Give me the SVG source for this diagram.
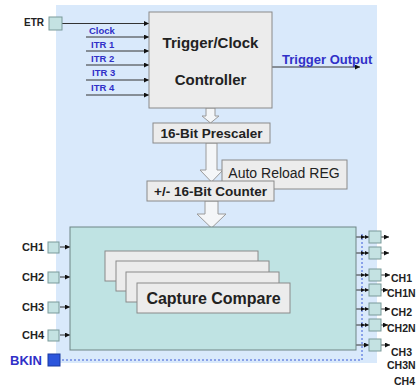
<svg xmlns="http://www.w3.org/2000/svg" width="417" height="390" viewBox="0 0 417 390">
<defs>
<marker id="ah" viewBox="0 0 10 10" refX="10" refY="5" markerWidth="5" markerHeight="5" orient="auto" markerUnits="userSpaceOnUse"><path d="M0,0 L10,5 L0,10 z" fill="#111"/></marker>
<marker id="ah2" viewBox="0 0 20 10" refX="20" refY="5" markerWidth="8" markerHeight="4" orient="auto" markerUnits="userSpaceOnUse"><path d="M0,0 L10,5 L0,10 z M10,0 L20,5 L10,10 z" fill="#111"/></marker>
<style>
.bg{fill:#d9e9fb;}
.box{fill:#ececec;stroke:#8a8a8a;stroke-width:1;}
.teal{fill:#bfe3e3;stroke:#6f8585;stroke-width:1;}
.pin{fill:#c4e2e2;stroke:#7a9a9a;stroke-width:1;}
.ln{stroke:#333;stroke-width:1;fill:none;}
.hol{fill:#f4f6f8;stroke:#9a9a9a;stroke-width:1;}
.dot{stroke:#3a5ad8;stroke-width:1;stroke-dasharray:2 2;fill:none;}
.tb{font-family:"Liberation Sans",Arial,sans-serif;font-weight:bold;fill:#222;}
.tn{font-family:"Liberation Sans",Arial,sans-serif;fill:#222;}
.blue{font-family:"Liberation Sans",Arial,sans-serif;font-weight:bold;fill:#3030c8;}
.out{font-family:"Liberation Sans",Arial,sans-serif;font-weight:bold;fill:#222;font-size:10.5px;}
</style>
</defs>
<rect class="bg" x="56" y="5" width="321" height="358"/>

<g id="connectors">
<line class="ln" x1="62" y1="23.5" x2="149" y2="23.5" marker-end="url(#ah)"/>
<line class="ln" x1="86" y1="37" x2="149" y2="37" marker-end="url(#ah)"/>
<line class="ln" x1="86" y1="51" x2="149" y2="51" marker-end="url(#ah)"/>
<line class="ln" x1="86" y1="65" x2="149" y2="65" marker-end="url(#ah)"/>
<line class="ln" x1="86" y1="80" x2="149" y2="80" marker-end="url(#ah)"/>
<line class="ln" x1="86" y1="95" x2="149" y2="95" marker-end="url(#ah)"/>
<line class="ln" x1="272" y1="67" x2="360" y2="67" marker-end="url(#ah)"/>
<path class="hol" d="M206,108 L215,108 L215,116 L219,116 L210.5,123 L202,116 L206,116 z"/>
<path class="hol" d="M206,143 L217,143 L217,170 L223,170 L211.5,182 L200,170 L206,170 z"/>
<path class="hol" d="M205,201 L218,201 L218,214 L226,214 L211.5,228 L197,214 L205,214 z"/>
<line class="ln" x1="60" y1="247" x2="70" y2="247" marker-end="url(#ah)"/>
<line class="ln" x1="60" y1="277" x2="70" y2="277" marker-end="url(#ah)"/>
<line class="ln" x1="60" y1="307" x2="70" y2="307" marker-end="url(#ah)"/>
<line class="ln" x1="60" y1="335" x2="70" y2="335" marker-end="url(#ah)"/>
<path class="dot" d="M62,360 L362,360 L362,234"/>
<line class="ln" x1="356" y1="237" x2="369" y2="237" marker-end="url(#ah2)"/>
<line class="ln" x1="356" y1="253" x2="369" y2="253" marker-end="url(#ah2)"/>
<line class="ln" x1="356" y1="275" x2="369" y2="275" marker-end="url(#ah2)"/>
<line class="ln" x1="356" y1="290" x2="369" y2="290" marker-end="url(#ah2)"/>
<line class="ln" x1="356" y1="309" x2="369" y2="309" marker-end="url(#ah2)"/>
<line class="ln" x1="356" y1="325" x2="369" y2="325" marker-end="url(#ah2)"/>
<line class="ln" x1="356" y1="345" x2="369" y2="345" marker-end="url(#ah)"/>
<line class="ln" x1="381" y1="237" x2="389" y2="237" marker-end="url(#ah)"/>
<line class="ln" x1="381" y1="253" x2="389" y2="253" marker-end="url(#ah)"/>
<line class="ln" x1="381" y1="275" x2="390" y2="275" marker-end="url(#ah)"/>
<line class="ln" x1="381" y1="290" x2="388" y2="290" marker-end="url(#ah)"/>
<line class="ln" x1="381" y1="309" x2="390" y2="309" marker-end="url(#ah)"/>
<line class="ln" x1="381" y1="325" x2="388" y2="325" marker-end="url(#ah)"/>
<line class="ln" x1="381" y1="345" x2="390" y2="345" marker-end="url(#ah)"/>
</g>

<g id="etr">
<text class="tb" x="24" y="26" font-size="10">ETR</text>
<rect class="pin" x="49" y="17" width="13" height="13"/>
</g>

<g id="inputs">
<text class="blue" x="89" y="34" font-size="9.5">Clock</text>
<text class="blue" x="91" y="48" font-size="9.5">ITR 1</text>
<text class="blue" x="91" y="62" font-size="9.5">ITR 2</text>
<text class="blue" x="92" y="76" font-size="9.5">ITR 3</text>
<text class="blue" x="91" y="91" font-size="9.5">ITR 4</text>
</g>

<g id="controller">
<rect class="box" x="149" y="12" width="123" height="96"/>
<text class="tb" x="210.5" y="48" font-size="15" text-anchor="middle">Trigger/Clock</text>
<text class="tb" x="210.5" y="85" font-size="15" text-anchor="middle">Controller</text>
</g>

<g id="trigger-output">
<text class="blue" x="282" y="64" font-size="13">Trigger Output</text>
</g>

<g id="prescaler">
<rect class="box" x="153" y="123" width="117" height="20"/>
<text class="tb" x="211.5" y="138" font-size="13.5" text-anchor="middle">16-Bit Prescaler</text>
</g>

<g id="auto-reload">
<rect class="box" x="222" y="160" width="125" height="29"/>
<text class="tn" x="284" y="178" font-size="14" text-anchor="middle">Auto Reload REG</text>
</g>

<g id="counter">
<rect class="box" x="147" y="181" width="127" height="20"/>
<text class="tb" x="210.5" y="196" font-size="13.5" text-anchor="middle">+/- 16-Bit Counter</text>
</g>

<g id="capture-block">
<rect class="teal" x="70" y="227" width="286" height="123"/>
<rect class="box" x="105" y="251" width="153" height="30"/>
<rect class="box" x="116" y="261" width="153" height="30"/>
<rect class="box" x="126" y="272" width="153" height="30"/>
<rect class="box" x="137" y="283" width="153" height="30"/>
<text class="tb" x="213.5" y="304" font-size="16" text-anchor="middle">Capture Compare</text>
</g>

<g id="ch-inputs">
<text class="tb" x="22" y="251" font-size="11">CH1</text>
<rect class="pin" x="48" y="242" width="11" height="11"/>
<text class="tb" x="22" y="281" font-size="11">CH2</text>
<rect class="pin" x="48" y="272" width="11" height="11"/>
<text class="tb" x="22" y="311" font-size="11">CH3</text>
<rect class="pin" x="48" y="302" width="11" height="11"/>
<text class="tb" x="22" y="339" font-size="11">CH4</text>
<rect class="pin" x="48" y="330" width="11" height="11"/>
</g>

<g id="bkin">
<text class="blue" x="10" y="365" font-size="13">BKIN</text>
<rect x="48" y="354" width="12" height="12" fill="#2b55dc" stroke="#1a3aa0"/>
</g>

<g id="ch-outputs">
<rect class="pin" x="369" y="231" width="12" height="12"/>
<rect class="pin" x="369" y="247" width="12" height="12"/>
<rect class="pin" x="369" y="269" width="12" height="12"/>
<rect class="pin" x="369" y="284" width="12" height="12"/>
<rect class="pin" x="369" y="303" width="12" height="12"/>
<rect class="pin" x="369" y="319" width="12" height="12"/>
<rect class="pin" x="369" y="339" width="12" height="12"/>
<text class="out" x="391" y="282">CH1</text>
<text class="out" x="387" y="297">CH1N</text>
<text class="out" x="391" y="316">CH2</text>
<text class="out" x="387" y="332">CH2N</text>
<text class="out" x="391" y="356">CH3</text>
<text class="out" x="387" y="369">CH3N</text>
<text class="out" x="394" y="385">CH4</text>
</g>
</svg>
